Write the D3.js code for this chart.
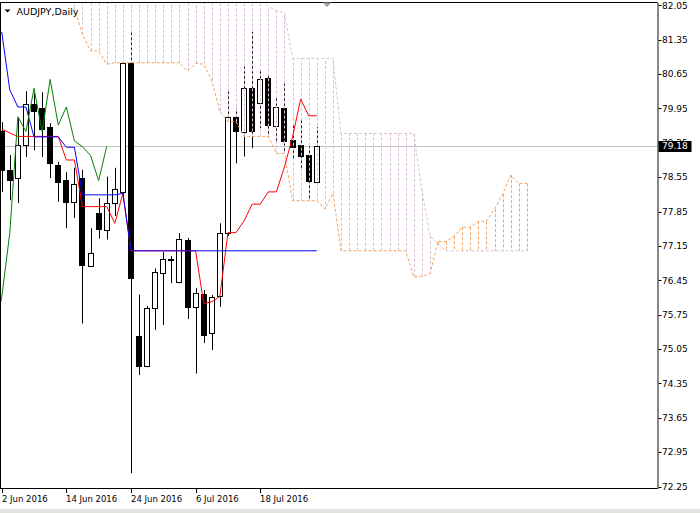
<!DOCTYPE html>
<html><head><meta charset="utf-8">
<script src="https://cdn.jsdelivr.net/npm/d3@7"></script>
<style>
html,body{margin:0;padding:0;background:#fff;}
svg{display:block;}
text{font-family:"DejaVu Sans",sans-serif;}
</style></head><body>
<svg id="c" width="700" height="513"></svg>
<script>
const symbolTitle = "AUDJPY,Daily";
const dateLabels = ["2 Jun 2016","14 Jun 2016","24 Jun 2016","6 Jul 2016","18 Jul 2016"];
const dateTickIndex = [0, 8, 16, 24, 32];
const priceTicks = [82.05,81.35,80.65,79.95,79.25,78.55,77.85,77.15,76.45,75.75,75.05,74.35,73.65,72.95,72.25];
const lastPrice = 79.18;

// daily candles, index 0 = 2 Jun 2016 ... index 39 = 27 Jul 2016
const opens  = [79.48,78.70,78.53,79.20,80.04,79.95,79.58,78.80,78.49,78.05,78.53,76.74,77.83,77.47,78.03,78.25,80.87,75.31,74.70,75.88,76.59,76.88,76.42,77.28,75.91,76.17,75.37,76.12,77.42,79.78,79.46,80.36,80.07,80.56,79.59,79.95,79.30,79.20,79.00,78.46];
const highs  = [79.67,79.00,79.75,80.30,80.26,80.28,79.65,78.86,78.65,78.74,78.70,77.51,78.12,78.56,78.74,80.92,81.55,76.16,75.93,76.69,77.03,76.94,77.41,77.31,76.29,76.25,76.15,77.61,80.33,79.95,80.80,81.51,80.73,80.63,80.18,80.46,79.63,79.71,79.17,79.57];
const lows   = [78.25,78.08,78.02,78.96,79.10,78.96,78.53,78.05,77.51,77.72,75.57,76.72,77.30,77.28,77.76,78.17,72.52,74.52,74.68,75.44,75.54,76.39,76.39,75.66,74.55,75.17,75.03,75.91,77.35,78.83,78.97,79.14,79.55,79.37,79.27,79.04,78.90,78.70,78.08,78.39];
const closes = [78.70,78.49,79.21,80.05,79.90,79.54,78.83,78.46,78.05,78.41,76.76,77.01,77.49,78.03,78.30,80.87,76.49,74.70,75.88,76.62,76.88,76.86,77.30,75.91,76.20,75.33,76.10,77.41,79.78,79.48,80.36,79.48,80.54,79.61,79.98,79.29,79.17,78.99,78.48,79.18];

// Ichimoku lines (index 0..39)
const tenkan = [79.53,79.45,79.38,79.38,79.38,79.38,79.38,79.38,78.90,78.90,77.95,77.95,77.95,77.95,77.61,78.22,
  77.05,77.05,77.05,77.05,77.05,77.05,77.05,77.05,77.05,
  75.98,76.01,76.12,77.42,77.42,77.66,78.00,78.00,78.25,78.25,78.76,79.37,80.14,79.80,79.80];
const kijun = [81.51,80.33,79.98,79.98,79.37,79.37,79.37,79.37,79.16,79.16,78.19,78.19,78.19,78.19,78.19,78.22,
  77.05,77.05,77.05,77.05,77.05,77.05,77.05,77.05,77.05,77.05,77.05,77.05,
  77.05,77.05,77.05,77.05,77.05,77.05,77.05,77.05,77.05,77.05,77.05,77.05];
const chikouShift = 26;

// cloud (index 9..65)
const spanStart = 9;
const spanA = [82.00,81.45,81.12,81.12,80.85,
  80.88,80.88,80.88,80.88,80.88,80.88,80.88,80.88,80.88,
  80.71,80.87,80.85,80.52,79.89,79.68,79.68,79.38,79.38,79.38,79.38,79.03,79.03,78.07,78.07,78.07,78.07,77.90,78.22,
  77.05,77.05,77.05,77.05,77.05,77.05,77.05,77.05,77.05,
  76.52,76.53,76.58,77.24,77.24,77.35,77.53,77.53,77.65,77.65,77.90,78.20,78.59,78.42,78.42];
const spanB = [82.20,82.20,82.20,82.20,82.20,82.20,82.20,82.20,82.20,82.20,82.20,82.20,
  82.20,82.20,82.20,82.20,82.20,82.20,82.20,82.20,82.20,82.20,82.20,82.20,
  82.02,81.95,81.89,
  80.97,80.97,80.97,80.97,80.97,80.97,
  79.44,79.44,79.44,79.44,79.44,79.44,79.44,79.44,79.44,79.44,
  78.29,77.37,77.19,
  77.05,77.05,77.05,77.05,77.05,77.05,77.05,77.05,77.05,77.05,77.05];

const svg = d3.select("#c");
const plot = {left: 0, top: 2.5, right: 657.5, bottom: 488};
const x = d3.scaleLinear().domain([0, 39]).range([1.7, 316.8]);
const y = d3.scaleLinear().domain([72.25, 82.05]).range([486.5, 5.3]);
const px = i => Math.round(x(i)) + 0.5;
const py = v => Math.round(y(v)) + 0.5;

svg.append("rect").attr("width", 700).attr("height", 513).attr("fill", "#fff");

svg.append("defs").append("clipPath").attr("id", "clip").append("rect")
  .attr("x", plot.left).attr("y", plot.top)
  .attr("width", plot.right - plot.left).attr("height", plot.bottom - plot.top);

const g = svg.append("g").attr("clip-path", "url(#clip)");

// bid line
g.append("line").attr("x1", 0).attr("x2", plot.right)
  .attr("y1", py(lastPrice)).attr("y2", py(lastPrice))
  .attr("stroke", "#c0c0c0").attr("stroke-width", 1);

// candles
const idx = d3.range(closes.length);
g.append("g").selectAll("line").data(idx).join("line")
  .attr("x1", px).attr("x2", px)
  .attr("y1", i => y(highs[i])).attr("y2", i => y(lows[i]))
  .attr("stroke", "#000").attr("stroke-width", 1);
g.append("g").selectAll("rect").data(idx).join("rect")
  .attr("x", i => Math.round(x(i)) - 2.5)
  .attr("width", 5)
  .attr("y", i => py(Math.max(opens[i], closes[i])))
  .attr("height", i => Math.max(0.001, Math.round(y(Math.min(opens[i], closes[i]))) - Math.round(y(Math.max(opens[i], closes[i])))))
  .attr("fill", i => closes[i] >= opens[i] ? "#fff" : "#000")
  .attr("stroke", "#000").attr("stroke-width", 1);

// cloud histogram
const cloudIdx = d3.range(spanA.length);
g.append("g").selectAll("line").data(cloudIdx).join("line")
  .attr("x1", k => px(spanStart + k)).attr("x2", k => px(spanStart + k))
  .attr("y1", k => y(spanA[k])).attr("y2", k => y(spanB[k]))
  .attr("stroke", k => spanA[k] > spanB[k] ? "#F4A460" : "#D8BFD8")
  .attr("stroke-width", 1).attr("stroke-dasharray", "3,2");

const lineGen = arr => d3.line().x(k => x(spanStart + k)).y(k => y(arr[k]));
g.append("path").attr("d", lineGen(spanB)(cloudIdx)).attr("fill", "none")
  .attr("stroke", "#D8BFD8").attr("stroke-width", 1).attr("stroke-dasharray", "3,2");
g.append("path").attr("d", lineGen(spanA)(cloudIdx)).attr("fill", "none")
  .attr("stroke", "#F4A460").attr("stroke-width", 1).attr("stroke-dasharray", "3,2");

// tenkan / kijun / chikou
const simpleLine = arr => d3.line().x(i => x(i)).y(i => y(arr[i]))(d3.range(arr.length));
g.append("path").attr("d", simpleLine(tenkan)).attr("fill", "none").attr("stroke", "#ff0000").attr("stroke-width", 1);
g.append("path").attr("d", simpleLine(kijun)).attr("fill", "none").attr("stroke", "#0000ff").attr("stroke-width", 1);
const chIdx = d3.range(chikouShift - 1, closes.length);
g.append("path").attr("d", d3.line().x(i => x(i - chikouShift)).y(i => y(closes[i]))(chIdx))
  .attr("fill", "none").attr("stroke", "#008000").attr("stroke-width", 1);

// frame
svg.append("line").attr("x1", 0).attr("x2", plot.right).attr("y1", plot.top).attr("y2", plot.top).attr("stroke", "#000");
svg.append("line").attr("x1", 0.5).attr("x2", 0.5).attr("y1", plot.top).attr("y2", plot.bottom).attr("stroke", "#000");
svg.append("line").attr("x1", 0).attr("x2", plot.right + 0.5).attr("y1", plot.bottom + 0.5).attr("y2", plot.bottom + 0.5).attr("stroke", "#000");
svg.append("line").attr("x1", plot.right + 0.5).attr("x2", plot.right + 0.5).attr("y1", plot.top).attr("y2", plot.bottom + 1).attr("stroke", "#606060").attr("stroke-width", 1.5);

// price axis
const ya = svg.append("g");
priceTicks.forEach(p => {
  ya.append("line").attr("x1", plot.right + 1).attr("x2", plot.right + 4)
    .attr("y1", py(p)).attr("y2", py(p)).attr("stroke", "#000");
  ya.append("text").attr("x", plot.right + 4.5).attr("y", y(p)).attr("dy", "0.36em")
    .attr("font-size", "9px").attr("fill", "#000").text(p.toFixed(2));
});
// last price label
ya.append("rect").attr("x", plot.right + 1).attr("y", Math.round(y(lastPrice)) - 5)
  .attr("width", 33).attr("height", 11).attr("fill", "#000");
ya.append("text").attr("x", plot.right + 4.5).attr("y", y(lastPrice)).attr("dy", "0.36em")
  .attr("font-size", "9px").attr("fill", "#fff").text(lastPrice.toFixed(2));

// date axis
const xa = svg.append("g");
dateTickIndex.forEach((i, k) => {
  xa.append("line").attr("x1", px(i)).attr("x2", px(i)).attr("y1", plot.bottom + 1).attr("y2", plot.bottom + 5).attr("stroke", "#000");
  xa.append("text").attr("x", px(i) - 0.5).attr("y", 502).attr("font-size", "8.5px").attr("fill", "#000").text(dateLabels[k]);
});

// title
svg.append("path").attr("d", "M4.5,9.5 L10.5,9.5 L7.5,12.5 Z").attr("fill", "#000");
svg.append("text").attr("x", 16.5).attr("y", 14.5).attr("font-size", "9.5px").attr("fill", "#000").text(symbolTitle);

// chart shift marker
svg.append("path").attr("d", "M322.5,2.5 L331.5,2.5 L327,7 Z").attr("fill", "#a0a0a0");

// window bottom strip
svg.append("rect").attr("x", 0).attr("y", 509).attr("width", 700).attr("height", 4).attr("fill", "#e4e2dc");
</script>
</body></html>
